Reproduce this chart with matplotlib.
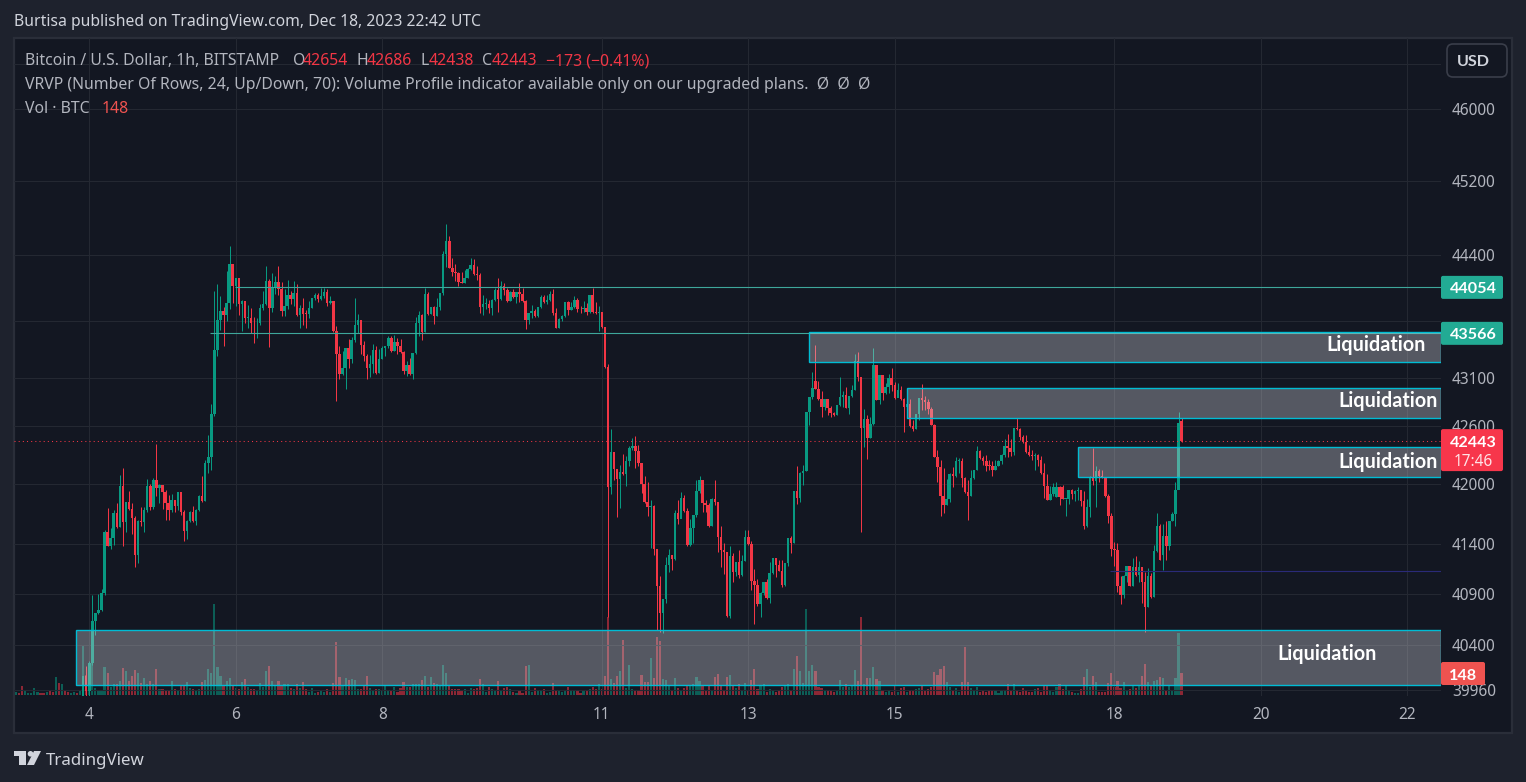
import numpy as np
import matplotlib
matplotlib.use("Agg")
import matplotlib.pyplot as plt
from matplotlib.patches import Rectangle, FancyBboxPatch, Polygon, Circle
from matplotlib.ticker import NullLocator, NullFormatter

FONT = ["Noto Sans", "DejaVu Sans"]
BOLD = ["Lato", "DejaVu Sans"]
plt.rcParams["font.family"] = FONT

closes = [40094, 39950, 40222,
 40633,40710,40743,40913,41522,41382,41462,41712,41572,41985,
 41622,41822,41752,41662,41283,41632,41622,41742,41985,41772,
 42047,41965,41996,41924,41812,41742,41842,41782,41924,41722,
 41532,41632,41722,41632,41742,41882,41832,42222,42284,42726,
 43393,43708,43803,43761,43887,44306,44070,44156,43877,43908,
 43729,43729,43677,43670,43680,43835,43877,44124,43835,44049,
 44113,44038,43803,43856,43974,43931,43995,43761,43835,43772,
 43770,43835,43941,43974,43931,43963,44006,43887,43908,43593,
 43350,43140,43203,43414,43298,43498,43656,43708,43445,43329,
 43203,43245,43393,43150,43298,43414,43435,43519,43382,43477,
 43435,43371,43171,43235,43140,43361,43677,43761,43582,43984,
 43772,43845,43751,43845,43995,44414,44553,44263,44220,44210,
 44113,44105,44156,44253,44296,44199,44190,43845,43877,43880,
 43835,43919,44027,43931,44070,44027,43908,44006,43952,44006,
 43984,43908,43708,43782,43803,43751,43845,43952,43898,43919,
 43984,43782,43624,43719,43751,43898,43814,43845,43919,43824,
 43820,43835,43793,43974,43793,43782,43793,43635,43213,41975,
 42335,42160,42057,42129,42109,42243,42376,42393,42345,42222,
 42006,41822,41772,41782,41352,40983,40713,40853,41192,41292,
 41252,41712,41652,41862,41732,41392,41562,41692,41934,42047,
 41812,41792,41582,41852,41822,41472,41342,41322,40683,41282,
 41122,41222,41092,41232,41472,41402,41033,40993,40803,40913,
 41023,40863,41112,41262,41192,41132,40993,41212,41462,41412,
 41934,41862,42119,42139,42747,42901,42994,42983,42880,42798,
 42880,42788,42737,42716,42818,42901,42921,42788,42911,42973,
 43275,43107,42582,42675,42470,42623,43234,42870,43128,42942,
 43004,43097,43025,42890,42973,42880,42798,42829,42603,42572,
 42726,42890,42870,42850,42778,42613,42284,42181,41883,41792,
 41852,42109,42088,42243,42243,42068,41924,41883,42068,42150,
 42345,42274,42243,42191,42185,42150,42191,42243,42305,42397,
 42376,42335,42582,42572,42490,42438,42335,42305,42294,42300,
 42253,42119,41985,41842,41903,41975,41975,41873,41852,41856,
 41944,41903,41934,41940,41832,41582,41772,42068,42037,42139,
 42088,42078,41883,41682,41352,41342,40983,40893,41082,41182,
 40983,41172,41092,41172,41022,40773,41082,40873,41332,41582,
 41242,41482,41382,41632,41702,41944,42634,42443]

highs = [40094, 40193, 40240,
 40893,40710,40903,40953,41542,41762,41562,41742,41809,42095,
 42170,41822,41934,41809,41682,41642,41772,41772,42057,42006,
 42068,42417,42006,41996,41944,41893,41903,41842,41924,41924,
 41742,41642,41732,41782,41752,41893,42088,42253,42510,42829,
 44016,44092,43963,43845,44231,44500,44306,44156,44156,43919,
 43908,43866,43835,43740,43729,43877,44016,44285,44145,44210,
 44178,44285,44113,44038,44135,44016,44124,44092,43866,43941,
 43814,43908,43941,43995,43995,44049,44049,44038,43963,43908,
 43645,43435,43382,43414,43508,43529,43941,43772,43708,43487,
 43350,43340,43456,43435,43403,43428,43435,43540,43540,43550,
 43519,43508,43382,43277,43308,43361,43740,43803,43772,44049,
 44006,43845,43856,43941,43995,44446,44736,44607,44371,44306,
 44220,44220,44242,44263,44371,44360,44285,44210,43974,43941,
 43919,43931,44049,44156,44124,44102,44049,44016,44038,44006,
 44102,44049,43919,43782,43866,43824,43845,43974,43974,43974,
 44016,44038,43835,43729,43761,43898,43908,43898,43963,43941,
 43856,43908,43887,43974,44049,43898,43856,43793,43624,43244,
 42572,42315,42160,42201,42315,42294,42397,42479,42500,42407,
 42222,42088,42026,41842,41792,41322,41083,40853,41272,41352,
 41292,41742,41842,41924,41893,41762,41652,41692,42047,42088,
 42016,41842,41812,41862,42047,41822,41582,41412,41322,41382,
 41312,41222,41342,41292,41542,41542,41432,41143,41052,40923,
 41023,41052,41222,41262,41262,41242,41242,41212,41462,41482,
 41934,42191,42129,42201,42747,42901,43160,43444,43066,42963,
 42880,42880,42808,42747,42818,43107,42963,43004,42911,43025,
 43349,43370,43107,42778,42716,42695,43412,43223,43128,43118,
 43045,43139,43202,43056,43045,43011,42890,42829,42880,42664,
 42726,42890,43035,42907,42880,42798,42620,42356,42253,42170,
 42057,42119,42181,42284,42274,42274,42078,42047,42150,42150,
 42397,42356,42294,42305,42253,42243,42253,42253,42315,42469,
 42521,42469,42582,42685,42582,42510,42510,42407,42356,42325,
 42315,42294,42222,42109,41985,42016,42026,41985,41995,41856,
 41944,41954,41944,41975,41924,41934,41852,42088,42376,42191,
 42160,42150,42078,41903,41712,41422,41412,41083,41092,41182,
 41182,41262,41282,41232,41172,41122,41162,41112,41392,41712,
 41602,41602,41632,41632,41722,42026,42747,42686]

lows = [39850, 39900, 39900,
 40202,40496,40703,40733,40893,41376,41352,41392,41562,41572,
 41382,41522,41742,41502,41163,41203,41582,41522,41722,41742,
 41752,41882,41812,41752,41642,41642,41722,41722,41742,41692,
 41432,41452,41622,41622,41592,41732,41822,41832,42119,42150,
 42706,43329,43603,43435,43698,43824,43887,43856,43761,43593,
 43677,43624,43572,43466,43519,43656,43814,43866,43424,43793,
 43984,43974,43751,43751,43824,43877,43856,43751,43624,43656,
 43624,43729,43835,43919,43898,43919,43941,43856,43877,43582,
 42860,43087,43129,42983,43203,43252,43477,43568,43350,43277,
 43087,43108,43154,43140,43150,43298,43329,43414,43371,43382,
 43350,43361,43140,43119,43129,43087,43350,43540,43498,43582,
 43761,43772,43666,43751,43814,43974,44274,44263,44178,44124,
 44070,44100,44105,44156,44242,44188,44135,43782,43761,43824,
 43782,43761,43908,43793,43919,43974,43898,43908,43941,43887,
 43898,43898,43614,43666,43729,43740,43740,43835,43887,43877,
 43908,43761,43624,43624,43698,43740,43761,43814,43835,43793,
 43782,43793,43761,43782,43782,43772,43593,43624,43203,40676,
 41903,42047,41672,41762,42098,41985,42191,42356,42170,42191,
 41913,41812,41682,41362,41292,40545,40529,40519,40813,41122,
 41142,41242,41602,41662,41722,41382,41382,41412,41672,41913,
 41722,41722,41572,41582,41792,41322,41172,41102,40676,40663,
 41022,41082,41062,41082,41232,41392,40943,40604,40783,40673,
 40893,40853,40813,41102,41072,41132,40973,40983,41182,41312,
 41412,41802,41822,41996,42139,42613,42880,42983,42870,42695,
 42767,42716,42695,42706,42716,42808,42798,42788,42726,42901,
 42973,43066,41522,42387,42263,42470,42613,42870,42829,42870,
 42932,42942,42963,42880,42911,42870,42541,42685,42592,42551,
 42572,42664,42767,42767,42726,42613,42284,42026,41682,41712,
 41792,41822,41975,42078,42119,41975,41913,41642,41883,42057,
 42150,42263,42201,42139,42150,42088,42150,42191,42212,42284,
 42284,42294,42305,42562,42459,42428,42325,42294,42253,42150,
 42191,42109,41862,41842,41842,41883,41873,41792,41852,41682,
 41802,41852,41832,41842,41782,41552,41572,41672,41995,41772,
 42026,42068,41873,41612,41282,41182,40923,40803,40863,41022,
 40983,40983,41082,41022,40813,40529,40773,40863,40873,41322,
 41242,41142,41242,41342,41632,41582,41954,42438]

# opens equal the previous close except at these hours
open_gaps = {-2: 39900, 238: 43066, 317: 41873, 319: 41975, 352: 41292, 358: 42654}

early_volumes = [18,11,60,27,11,11,45,20,11,11,18,33,20,118,80,71,27,20,11,18,11,29]
early_up = list("grrgggggrrgrrgrgrrggrg")

volumes = [335,134,214,227,
 49,29,29,187,147,51,74,74,94,
 181,161,94,127,167,147,80,114,74,94,
 74,174,40,40,33,33,94,42,27,60,
 60,87,47,40,27,40,87,100,174,147,
 609,187,127,60,94,114,60,47,40,87,
 107,54,40,42,29,80,54,161,194,94,
 60,94,67,74,74,47,42,74,45,87,
 40,20,47,11,20,33,20,40,20,80,
 355,120,67,114,100,107,100,40,40,60,
 127,47,27,40,40,27,65,27,33,54,
 20,47,87,54,54,74,74,74,100,127,
 54,120,80,74,67,201,147,67,40,40,
 40,27,40,13,47,40,47,107,74,20,
 54,40,33,94,
 33,47,54,40,20,13,27,13,194,201,20,47,33,27,40,13,20,80,33,27,20,33,54,33,27,33,13,27,33,40,54,40,74,40,127,
 522,
 107,80,127,161,368,47,201,40,33,33,
 134,87,87,248,114,388,361,107,100,60,
 27,114,47,27,47,60,60,74,120,94,
 60,27,60,27,120,140,60,33,120,134,
 60,47,74,27,80,33,100,174,40,67,
 74,20,40,33,20,27,54,60,74,33,
 174,261,161,80,575,161,201,161,54,47,
 27,27,27,20,33,100,54,74,54,
 60,167,94,522,74,114,114,187,107,94,33,
 20,27,20,60,20,47,54,20,33,27,
 40,47,60,27,40,54,154,134,174,194,
 87,54,27,47,20,87,321,87,47,33,
 54,20,33,20,27,27,33,13,27,33,
 74,33,74,27,20,47,27,20,20,40,
 47,20,60,60,27,20,54,74,40,60,
 27,20,13,13,40,120,174,54,127,87,
 20,20,20,80,147,54,94,47,87,33,
 40,60,47,60,127,207,87,60,94,100,
 120,114,33,60,33,114,415,148]

price_ticks = [46000,45200,44400,43100,42600,42000,41400,40900,40400,39960]
hidden_grid = [46500,43700]
day_hours = [0,48,96,168,216,264,336,384,432]
day_labels = ["4","6","8","11","13","15","18","20","22"]

zone_start = [235.9,268.0,324.05,-4.2]
zone_top = [43580,42990,42380,40541]
zone_bottom = [43261,42685,42079,40005]
zone_label_hour = [421.7,425.7,425.7,405.7]
zone_label_price = [43464,42879,42250,40330]
level_prices = [44054,43566]
level_start = [47.8,39.6]
BLUE_PRICE, BLUE_START = 41126, 334.5
LAST_PRICE = 42443

UP, DOWN = "#089981", "#f23645"
BG, OUTER, FRAME, GRID = "#131722", "#1e222d", "#2a2e39", "#242832"
AXTXT = "#b2b5be"
W, H = 1526, 782
L, R, T, B = 14, 1441, 38, 696
PX_PER_HOUR = 3.051
HOUR0_PX = 89.3

fig = plt.figure(figsize=(W/100, H/100), dpi=100, facecolor=OUTER)
def rect(l, t, r, b):
    return [l/W, 1-b/H, (r-l)/W, (b-t)/H]

bg = fig.add_axes([0,0,1,1], zorder=0)
bg.set_xlim(0,W); bg.set_ylim(H,0); bg.axis("off")
bg.add_patch(Rectangle((14,38),1498,695,fc=BG,ec=FRAME,lw=1.6))

xlim = ((L-HOUR0_PX)/PX_PER_HOUR, (R-HOUR0_PX)/PX_PER_HOUR)

n = len(closes)
hours = np.arange(-2, n-2)
closes_a = np.array(closes,float)
opens_a = np.r_[closes_a[0], closes_a[:-1]]
for h,v in open_gaps.items():
    opens_a[h+2] = v
up = closes_a >= opens_a

# volume pane
vax = fig.add_axes(rect(L,T,R,B), zorder=1)
vax.patch.set_visible(False); vax.axis("off")
vax.set_xlim(*xlim); vax.set_ylim(-6.7,(695-38)*6.7)
eh = np.arange(-2-len(early_volumes),-2)
vax.bar(eh, early_volumes, width=0.7, lw=0, alpha=0.55, antialiased=False,
        color=[UP if c=="g" else DOWN for c in early_up])
vax.bar(hours, volumes, width=0.7, lw=0, alpha=0.55, antialiased=False,
        color=[UP if u else DOWN for u in up])

# price pane
ax = fig.add_axes(rect(L,T,R,B), zorder=2)
ax.patch.set_visible(False)
ax.set_yscale("log")
ax.set_ylim(39901,46798); ax.set_xlim(*xlim)
for s in ax.spines.values(): s.set_visible(False)
ax.yaxis.set_minor_locator(NullLocator()); ax.yaxis.set_minor_formatter(NullFormatter())
ax.yaxis.tick_right()
ax.set_yticks(price_ticks+hidden_grid)
ax.set_yticklabels([str(p) for p in price_ticks]+[""]*len(hidden_grid))
ax.set_xticks(day_hours); ax.set_xticklabels(day_labels)
ax.tick_params(axis="y",length=0,pad=7.9,labelsize=11.1,labelcolor=AXTXT)
ax.tick_params(axis="x",length=0,pad=8.0,labelsize=11.1,labelcolor=AXTXT)
ax.grid(True,color=GRID,lw=0.8,zorder=0)
ax.set_axisbelow(True)

cols = [UP if u else DOWN for u in up]
wicks = ax.vlines(hours,lows,highs,colors=cols,lw=0.72,zorder=3)
wicks.set_snap(True)
lo_b = np.minimum(opens_a,closes_a)
ht_b = np.maximum(np.abs(closes_a-opens_a),8)
ax.bar(hours,ht_b,bottom=lo_b,width=0.8,color=cols,lw=0,zorder=3,antialiased=False)

ax.hlines(level_prices,level_start,[xlim[1]]*2,colors="#3ea79b",lw=0.8,zorder=4)
ax.hlines(BLUE_PRICE,BLUE_START,xlim[1],colors="#2a2a78",lw=0.8,zorder=4)
ax.axhline(LAST_PRICE,color=DOWN,lw=0.75,ls=(0,(1,3)),zorder=4)

for s,t,b in zip(zone_start,zone_top,zone_bottom):
    ax.add_patch(Rectangle((s,b),xlim[1]-s,t-b,fc=(0.82,0.83,0.86,0.35),
                           ec="#00bcd4",lw=1.0,zorder=5,clip_on=True))
for hx,py in zip(zone_label_hour,zone_label_price):
    ax.text(hx,py,"Liquidation",color="white",fontsize=14.2,fontweight="bold",family=BOLD,
            ha="center",va="center_baseline",zorder=6)

# chrome overlay
ox = fig.add_axes([0,0,1,1], zorder=10)
ox.patch.set_visible(False); ox.set_xlim(0,W); ox.set_ylim(H,0); ox.axis("off")
def px_y(price):
    return H - ax.transData.transform((0,price))[1]
def tag(price, top_off, bot_off, right, color):
    y = px_y(price)
    ox.add_patch(FancyBboxPatch((1441,y-top_off),right-1441,top_off+bot_off,
        boxstyle="round,pad=0,rounding_size=2",fc=color,ec="none"))
    return y
fig.canvas.draw()
TAGFS = 11.6
for p in level_prices:
    y = tag(p,11.5,11.5,1503,"#22ab94")
    ox.text(1473,y,str(p),color="white",fontsize=TAGFS,fontweight="bold",family=BOLD,ha="center",va="center_baseline")
y = tag(LAST_PRICE,12,30,1503,"#f7364b")
ox.text(1473,y,str(LAST_PRICE),color="white",fontsize=TAGFS,fontweight="bold",family=BOLD,ha="center",va="center_baseline")
ox.text(1473,y+19,"17:46",color="#ffe3e6",fontsize=11.1,ha="center",va="center_baseline")
ox.add_patch(FancyBboxPatch((1441,662),44,23,boxstyle="round,pad=0,rounding_size=2",fc="#ef5350",ec="none"))
ox.text(1463,674,str(volumes[-1]),color="white",fontsize=TAGFS,fontweight="bold",family=BOLD,ha="center",va="center_baseline")

ox.add_patch(FancyBboxPatch((1447,44),60,33,boxstyle="round,pad=0,rounding_size=6",fc=BG,ec="#3a3e4a",lw=1.2))
ox.text(1473,61,"USD",color="#d1d4dc",fontsize=11.6,fontweight="bold",family=BOLD,ha="center",va="center_baseline")

ox.text(14,20,"Burtisa published on TradingView.com, Dec 18, 2023 22:42 UTC",color="#d1d4dc",
        fontsize=11.3,fontweight="medium",va="center_baseline")
HDR = "#b2b5be"; FS = 11.38
ox.text(25,59,"Bitcoin / U.S. Dollar, 1h, BITSTAMP",color=HDR,fontsize=FS,va="center_baseline")
for x,s,c in [(293,"O",HDR),(303,"42654",DOWN),(357,"H",HDR),(367,"42686",DOWN),
              (421,"L",HDR),(429,"42438",DOWN),(482,"C",HDR),(492,"42443",DOWN),
              (546,"\u2212173 (\u22120.41%)",DOWN)]:
    ox.text(x,59,s,color=c,fontsize=FS,va="center_baseline")
ox.text(25,83,"VRVP (Number Of Rows, 24, Up/Down, 70): Volume Profile indicator available only on our upgraded plans.  \u00d8  \u00d8  \u00d8",
        color=HDR,fontsize=FS,va="center_baseline")
ox.text(25,107,"Vol \u00b7 BTC",color=HDR,fontsize=FS,va="center_baseline")
ox.text(102,107,str(volumes[-1]),color="#ef5350",fontsize=FS,va="center_baseline")

LOGO = "#d1d4dc"
ox.add_patch(Polygon([(14,751),(26,751),(26,765),(19,765),(19,756),(14,756)],fc=LOGO,ec="none"))
ox.add_patch(Circle((30.5,753.8),2.8,fc=LOGO,ec="none"))
ox.add_patch(Polygon([(41,751),(34,765),(27,765),(34,751)],fc=LOGO,ec="none"))
ox.text(46,759,"TradingView",color=LOGO,fontsize=12.2,va="center_baseline")

fig.savefig("out.png",dpi=100,facecolor=OUTER)
